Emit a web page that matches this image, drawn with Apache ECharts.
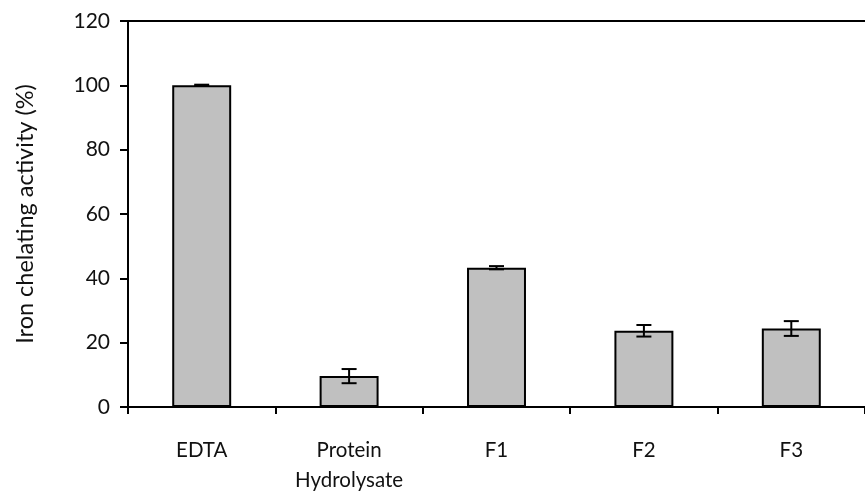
<!DOCTYPE html>
<html>
<head>
<meta charset="utf-8">
<script src="https://cdn.jsdelivr.net/npm/echarts@6/dist/echarts.min.js"></script>
<style>
  html, body { margin: 0; padding: 0; background: #fff; }
  #chart { width: 865px; height: 495px; }
</style>
</head>
<body>
<div id="chart"></div>
<script>
// data
var categories = ['EDTA', 'Protein\nHydrolysate', 'F1', 'F2', 'F3'];
var activity = [100, 9.6, 43.3, 23.7, 24.4];
var errors = [0.2, 2.2, 0.5, 1.8, 2.3];
var yTicks = [0, 20, 40, 60, 80, 100, 120];

var font = 'Lato, "Open Sans", sans-serif';

var errData = activity.map(function (v, i) {
  return [i, v - errors[i], v + errors[i]];
});

var chart = echarts.init(document.getElementById('chart'));

chart.setOption({
  animation: false,
  grid: { left: 128, top: 21, bottom: 87, right: -10 },
  xAxis: [{
    type: 'category',
    data: categories,
    axisLine: { lineStyle: { color: '#000', width: 2 } },
    axisTick: { show: true, length: 7, lineStyle: { color: '#000', width: 2 } },
    axisLabel: { color: '#111', fontFamily: font, fontSize: 20.5, margin: 28, lineHeight: 30 }
  }, {
    // top border line
    type: 'category',
    position: 'top',
    data: categories,
    axisLine: { lineStyle: { color: '#000', width: 2 } },
    axisTick: { show: false },
    axisLabel: { show: false }
  }],
  yAxis: {
    type: 'value',
    min: yTicks[0],
    max: yTicks[yTicks.length - 1],
    interval: 20,
    name: 'Iron chelating activity (%)',
    nameLocation: 'middle',
    nameGap: 91,
    nameTextStyle: { color: '#111', fontFamily: font, fontSize: 23.5 },
    axisLine: { show: true, lineStyle: { color: '#000', width: 2 } },
    axisTick: { show: true, length: 8, lineStyle: { color: '#000', width: 2 } },
    axisLabel: { color: '#111', fontFamily: font, fontSize: 21, margin: 18 },
    splitLine: { show: false }
  },
  series: [{
    type: 'bar',
    data: activity,
    barWidth: '40%',
    itemStyle: { color: '#c0c0c0', borderColor: '#000', borderWidth: 2 }
  }, {
    type: 'custom',
    data: errData,
    z: 10,
    renderItem: function (params, api) {
      var lo = api.coord([api.value(0), api.value(1)]);
      var hi = api.coord([api.value(0), api.value(2)]);
      var half = 7.5;
      var style = { stroke: '#000', lineWidth: 2 };
      return {
        type: 'group',
        children: [
          { type: 'line', shape: { x1: lo[0], y1: lo[1], x2: hi[0], y2: hi[1] }, style: style },
          { type: 'line', shape: { x1: lo[0] - half, y1: lo[1], x2: lo[0] + half, y2: lo[1] }, style: style },
          { type: 'line', shape: { x1: hi[0] - half, y1: hi[1], x2: hi[0] + half, y2: hi[1] }, style: style }
        ]
      };
    }
  }]
});
</script>
</body>
</html>
